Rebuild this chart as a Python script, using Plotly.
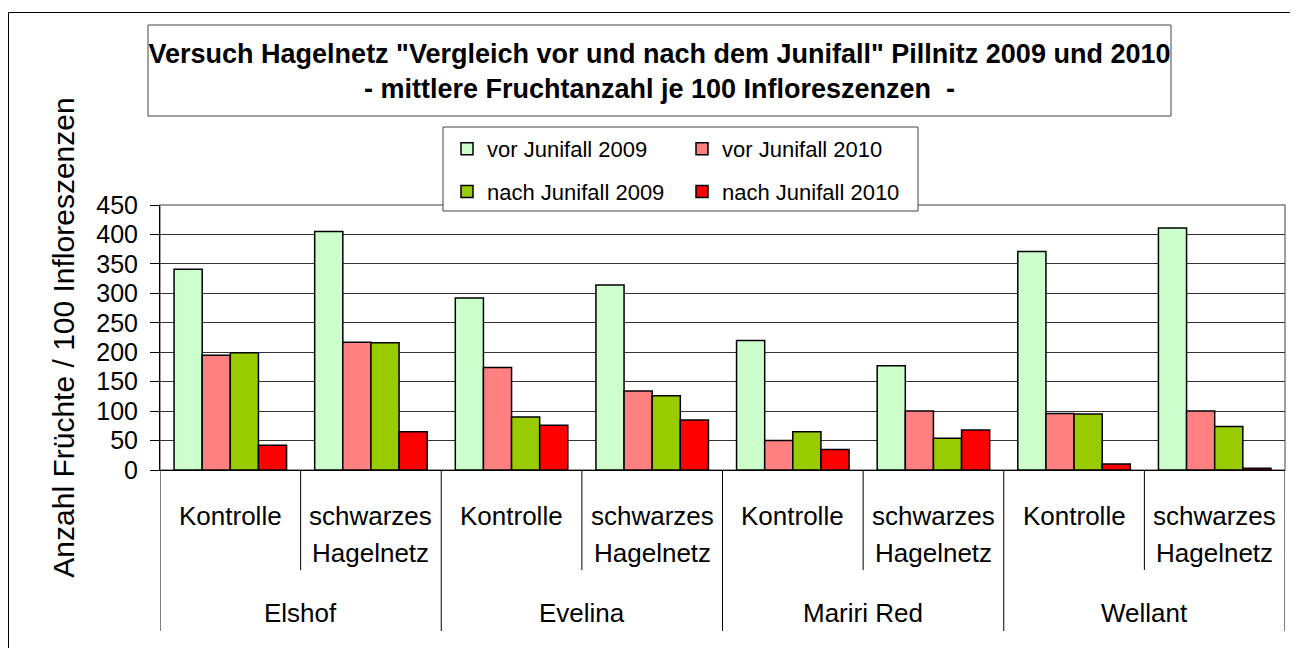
import plotly.graph_objects as go

# ---- data ----
varieties = ["Elshof", "Evelina", "Mariri Red", "Wellant"]
treatments = ["Kontrolle", "schwarzes<br>Hagelnetz"]
series_names = ["vor Junifall 2009", "vor Junifall 2010", "nach Junifall 2009", "nach Junifall 2010"]
vor_2009 = [341, 405, 292, 314, 220, 177, 371, 411]
vor_2010 = [195, 217, 174, 134, 50, 100, 96, 100]
nach_2009 = [199, 216, 90, 126, 65, 54, 95, 74]
nach_2010 = [42, 65, 76, 85, 35, 68, 10, 3]
y_ticks = [0, 50, 100, 150, 200, 250, 300, 350, 400, 450]

colors = ["#CCFFCC", "#FF8080", "#99CC00", "#FF0000"]
values = [vor_2009, vor_2010, nach_2009, nach_2010]
legend_ids = ["legend", "legend2", "legend", "legend2"]

FONT = "Liberation Sans, Arial, sans-serif"
OFF = 8                       # page body margin
W, H = 1290, 640
PL, PR, PT, PB = 160 - OFF, 1285 - OFF, 205 - OFF, 470 - OFF  # plot area (figure px)


def px_x(page_px):
    return (page_px - OFF - PL) / (PR - PL)


def px_y(page_py):
    return (PB - (page_py - OFF)) / (PB - PT)


n_cat = len(varieties) * len(treatments)
xpos = list(range(n_cat))

fig = go.Figure()
for name, vals, col, lg in zip(series_names, values, colors, legend_ids):
    fig.add_trace(go.Bar(
        x=xpos, y=vals, name=name, legend=lg, legendgroup=name,
        marker=dict(color=col, line=dict(color="black", width=1.5)),
    ))

shapes = []
# outer chart border
shapes.append(dict(type="rect", xref="paper", yref="paper",
                   x0=px_x(8.5), x1=px_x(1297.5), y0=px_y(660), y1=px_y(12.5),
                   line=dict(color="black", width=1), layer="below"))
# title box
shapes.append(dict(type="rect", xref="paper", yref="paper",
                   x0=px_x(148), x1=px_x(1171), y0=px_y(116), y1=px_y(25),
                   line=dict(color="#444444", width=1), fillcolor="white", layer="below"))
# plot-area frame (right / top)
shapes.append(dict(type="rect", xref="paper", yref="paper", x0=0, x1=1, y0=0, y1=1,
                   line=dict(color="#808080", width=1.5), layer="below"))
# legend box
shapes.append(dict(type="rect", xref="paper", yref="paper",
                   x0=px_x(443), x1=px_x(918), y0=px_y(211), y1=px_y(127),
                   line=dict(color="#444444", width=1), fillcolor="white", layer="above"))
# category dividers
for i in range(len(varieties)):
    shapes.append(dict(type="line", xref="x", yref="paper",
                       x0=2 * i + 0.5, x1=2 * i + 0.5, y0=0, y1=px_y(570),
                       line=dict(color="black", width=1)))
for i in range(len(varieties) + 1):
    shapes.append(dict(type="line", xref="x", yref="paper",
                       x0=2 * i - 0.5, x1=2 * i - 0.5, y0=0, y1=px_y(631),
                       line=dict(color="black", width=1)))

annotations = []
for i, v in enumerate(varieties):
    for j, t in enumerate(treatments):
        lines = t.split("<br>")
        for k, ln in enumerate(lines):
            annotations.append(dict(
                x=2 * i + j, y=px_y(516 + 36.7 * k), xref="x", yref="paper",
                text=ln, showarrow=False, xanchor="center", yanchor="middle",
                font=dict(family=FONT, size=26, color="black")))
    annotations.append(dict(
        x=2 * i + 0.5, y=px_y(612.7), xref="x", yref="paper",
        text=v, showarrow=False, xanchor="center", yanchor="middle",
        font=dict(family=FONT, size=26, color="black")))

fig.update_layout(
    width=W, height=H,
    margin=dict(l=PL, r=W - PR, t=PT, b=H - PB, autoexpand=False),
    paper_bgcolor="white", plot_bgcolor="white",
    barmode="group", bargap=0.2, bargroupgap=0,
    font=dict(family=FONT, color="black"),
    title=dict(
        text="<b>Versuch Hagelnetz \"Vergleich vor und nach dem Junifall\" Pillnitz 2009 und 2010"
             "<br>- mittlere Fruchtanzahl je 100 Infloreszenzen  -</b>",
        x=(659.5 - OFF) / W, xanchor="center", xref="container",
        y=1 - 55 / H, yanchor="top", yref="container",
        font=dict(family=FONT, size=27, color="black")),
    xaxis=dict(range=[-0.5, n_cat - 0.5], showticklabels=False, ticks="",
               showgrid=False, zeroline=False, showline=True,
               linecolor="black", linewidth=1),
    yaxis=dict(range=[0, 450], tickvals=y_ticks, ticks="outside", ticklen=9,
               tickcolor="black", tickwidth=1, ticklabelstandoff=7,
               tickfont=dict(family=FONT, size=25, color="black"),
               showgrid=True, gridcolor="#333333", gridwidth=1,
               zeroline=False, showline=True, linecolor="black", linewidth=1,
               title=dict(text="Anzahl Früchte / 100 Infloreszenzen", standoff=12,
                          font=dict(family=FONT, size=30, color="black"))),
    legend=dict(x=px_x(447), y=px_y(128), xanchor="left", yanchor="top",
                orientation="v", traceorder="grouped", tracegroupgap=11,
                bgcolor="rgba(0,0,0,0)", borderwidth=0,
                font=dict(family=FONT, size=22, color="black")),
    legend2=dict(x=px_x(682), y=px_y(128), xanchor="left", yanchor="top",
                 orientation="v", traceorder="grouped", tracegroupgap=11,
                 bgcolor="rgba(0,0,0,0)", borderwidth=0,
                 font=dict(family=FONT, size=22, color="black")),
    shapes=shapes,
    annotations=annotations,
    showlegend=True,
)

fig.write_html("out.html")
